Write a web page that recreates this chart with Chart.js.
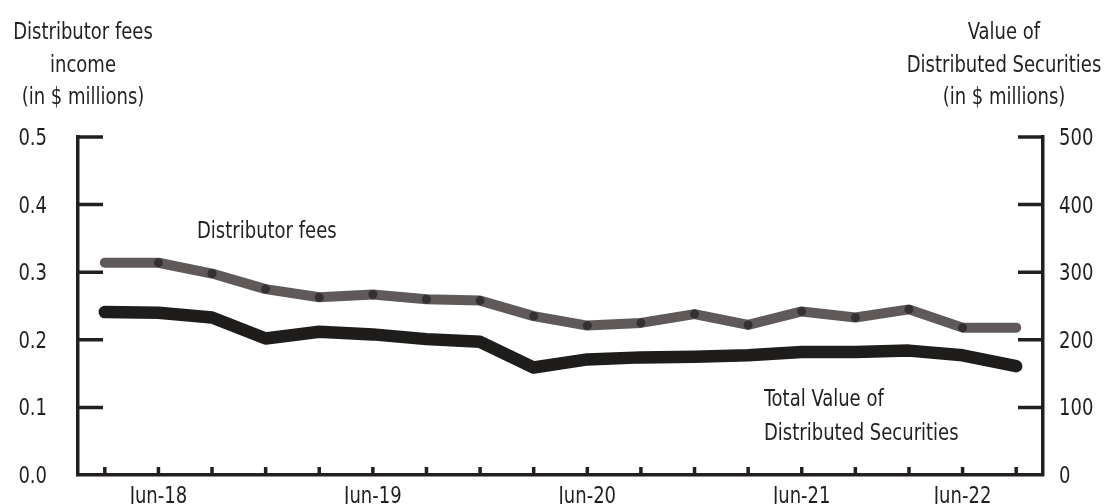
<!DOCTYPE html>
<html lang="en">
<head>
  <meta charset="UTF-8" />
  <title>Distributor fees vs Distributed Securities</title>
  <script src="https://cdn.jsdelivr.net/npm/chart.js"></script>
  <style>
    body { margin: 0; background: #fff; }
    #wrap { width: 1106px; height: 504px; }
  </style>
</head>
<body>
  <div id="wrap"><canvas id="feesChart"></canvas></div>

  <script>
    // quarterly points, only some get a label
    const xLabels = ['', 'Jun-18', '', '', '', 'Jun-19', '', '', '', 'Jun-20', '', '', '', 'Jun-21', '', '', 'Jun-22', ''];
    // distributor fees income, $ millions (left axis)
    const feesIncome = [0.314, 0.314, 0.298, 0.275, 0.263, 0.267, 0.260, 0.258, 0.235, 0.221, 0.225, 0.238, 0.222, 0.242, 0.233, 0.245, 0.218, 0.218];
    // total value of distributed securities, $ millions (right axis)
    const securitiesValue = [241, 240, 233, 202, 212, 208, 201, 197, 159, 171, 174, 175, 177, 182, 182, 184, 177, 161];
    const leftTicks = [0, 0.1, 0.2, 0.3, 0.4, 0.5];
    const rightTicks = [0, 100, 200, 300, 400, 500];

    const FONT = "'Liberation Sans Narrow', 'DejaVu Sans Condensed', sans-serif";
    const INK = '#231f20';
    const SX = 0.87; // squeeze text, the original face is narrower than anything installed

    // dots on every point except the two ends
    const dotRadius = feesIncome.map((v, i) => (i === 0 || i === feesIncome.length - 1) ? 0 : 4.5);

    function txt(ctx, s, x, y, align) {
      ctx.save();
      ctx.translate(x, y);
      ctx.scale(SX, 1);
      ctx.textAlign = align;
      ctx.fillText(s, 0, 0);
      ctx.restore();
    }

    // inward tick marks, tick labels and free text
    const decorPlugin = {
      id: 'decor',
      afterDraw(chart) {
        const ctx = chart.ctx;
        const area = chart.chartArea;
        const yL = chart.scales.yLeft, yR = chart.scales.yRight, x = chart.scales.x;
        ctx.save();
        ctx.strokeStyle = INK;
        ctx.lineWidth = 3.5;
        ctx.beginPath();
        leftTicks.forEach(v => {
          if (v === 0) return;
          const py = yL.getPixelForValue(v);
          ctx.moveTo(area.left, py); ctx.lineTo(area.left + 25, py);
        });
        rightTicks.forEach(v => {
          if (v === 0) return;
          const py = yR.getPixelForValue(v);
          ctx.moveTo(area.right, py); ctx.lineTo(area.right - 25, py);
        });
        xLabels.forEach((l, i) => {
          const px = x.getPixelForValue(i);
          ctx.moveTo(px, area.bottom); ctx.lineTo(px, area.bottom - 8);
        });
        ctx.stroke();

        ctx.fillStyle = INK;
        ctx.font = '23px ' + FONT;

        ctx.textBaseline = 'middle';
        leftTicks.forEach(v => txt(ctx, v.toFixed(1), 47, yL.getPixelForValue(v) + 2, 'right'));
        rightTicks.forEach(v => txt(ctx, String(v), 1059, yR.getPixelForValue(v) + 2, 'left'));

        ctx.textBaseline = 'alphabetic';
        xLabels.forEach((l, i) => { if (l) txt(ctx, l, x.getPixelForValue(i), 503, 'center'); });

        ['Distributor fees', 'income', '(in $ millions)'].forEach((t, i) => txt(ctx, t, 83, 39 + i * 32.5, 'center'));
        ['Value of', 'Distributed Securities', '(in $ millions)'].forEach((t, i) => txt(ctx, t, 1004, 39 + i * 32.5, 'center'));

        txt(ctx, 'Distributor fees', 197, 238, 'left');
        txt(ctx, 'Total Value of', 764, 406, 'left');
        txt(ctx, 'Distributed Securities', 764, 440, 'left');
        ctx.restore();
      }
    };

    const ctx = document.getElementById('feesChart').getContext('2d');
    new Chart(ctx, {
      type: 'line',
      data: {
        labels: xLabels,
        datasets: [
          {
            label: 'Distributor fees',
            data: feesIncome,
            yAxisID: 'yLeft',
            borderColor: '#5f5959',
            borderWidth: 10,
            borderCapStyle: 'round',
            borderJoinStyle: 'round',
            tension: 0,
            pointRadius: dotRadius,
            pointBackgroundColor: '#333033',
            pointBorderWidth: 0,
            pointHoverRadius: 0
          },
          {
            label: 'Total Value of Distributed Securities',
            data: securitiesValue,
            yAxisID: 'yRight',
            borderColor: '#1e1d1b',
            borderWidth: 12.5,
            borderCapStyle: 'round',
            borderJoinStyle: 'round',
            tension: 0,
            pointRadius: 0,
            pointHoverRadius: 0
          }
        ]
      },
      options: {
        responsive: true,
        maintainAspectRatio: false,
        animation: false,
        layout: { padding: { top: 137, left: 0, right: 0, bottom: 0 } },
        plugins: { legend: { display: false }, tooltip: { enabled: false } },
        scales: {
          x: {
            offset: true,
            grid: { display: false, drawTicks: false },
            border: { display: true, color: INK, width: 3.5 },
            ticks: { display: false },
            afterFit(s) { s.height = 29; }
          },
          yLeft: {
            position: 'left',
            min: 0, max: 0.5,
            grid: { display: false, drawTicks: false },
            border: { display: true, color: INK, width: 3.5 },
            ticks: { display: false, stepSize: 0.1 },
            afterFit(s) { s.width = 78; }
          },
          yRight: {
            position: 'right',
            min: 0, max: 500,
            grid: { display: false, drawTicks: false },
            border: { display: true, color: INK, width: 3.5 },
            ticks: { display: false, stepSize: 100 },
            afterFit(s) { s.width = 63; }
          }
        }
      },
      plugins: [decorPlugin]
    });
  </script>
</body>
</html>
